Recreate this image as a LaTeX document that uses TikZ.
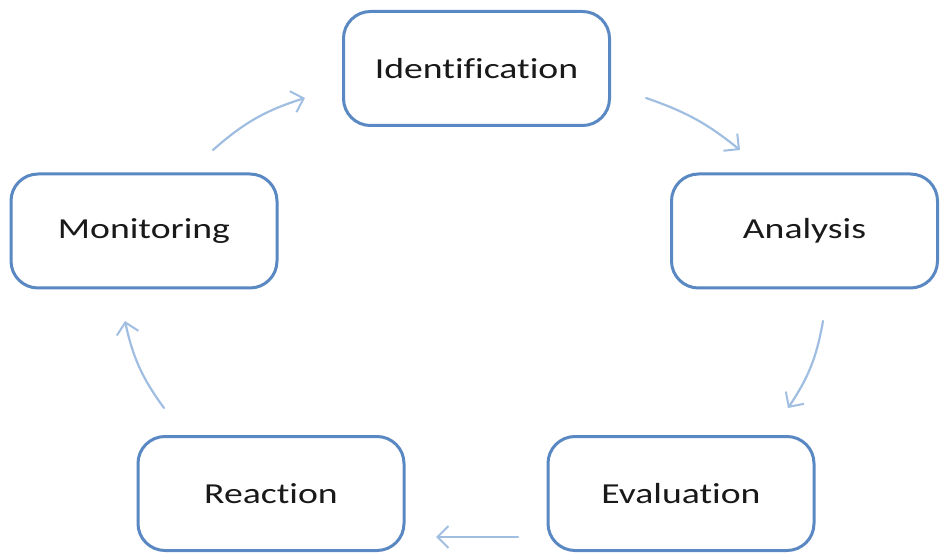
\documentclass[tikz,border=0pt]{standalone}
\usepackage{fontspec}
\setmainfont{Carlito}[FakeStretch=1.3,Ligatures=NoCommon]
\usetikzlibrary{arrows.meta}
\definecolor{boxblue}{RGB}{90,136,194}
\definecolor{arrblue}{RGB}{160,190,225}
\definecolor{txt}{RGB}{25,25,25}
\tikzset{
  stage/.style={draw=boxblue, line width=3pt, fill=white, rounded corners=27pt,
    minimum width=266pt, minimum height=114pt, inner sep=0pt,
    font=\fontsize{29}{32}\selectfont, text=txt},
  flow/.style={draw=arrblue, line width=2.2pt, line cap=round,
    -{Straight Barb[length=11pt,width=22pt,line width=2pt]}}
}
\begin{document}
\begin{tikzpicture}[x=1pt,y=-1pt]
\useasboundingbox (0,0) rectangle (940,553);
\node[stage] (ident) at (476.5,68.5) {Identification};
\node[stage] (anal) at (804.5,231) {Analysis};
\node[stage] (mon) at (144,231) {Monitoring};
\node[stage] (react) at (271,493.5) {Reaction};
\node[stage] (eval) at (681,493.5) {Evaluation};
\coordinate (a1s) at (213,150);
\coordinate (a1e) at (305,98);
\coordinate (a2s) at (646,98);
\coordinate (a2e) at (740,150);
\coordinate (a3s) at (823,321);
\coordinate (a3e) at (788,408);
\coordinate (a4s) at (518,537);
\coordinate (a4e) at (436,537);
\coordinate (a5s) at (164,408);
\coordinate (a5e) at (125,321);
\draw[flow] (a1s) to[bend left=12] (a1e);
\draw[flow] (a2s) to[bend left=10] (a2e);
\draw[flow] (a3s) to[bend left=12] (a3e);
\draw[flow] (a4s) -- (a4e);
\draw[flow] (a5s) to[bend left=12] (a5e);
\end{tikzpicture}
\end{document}
